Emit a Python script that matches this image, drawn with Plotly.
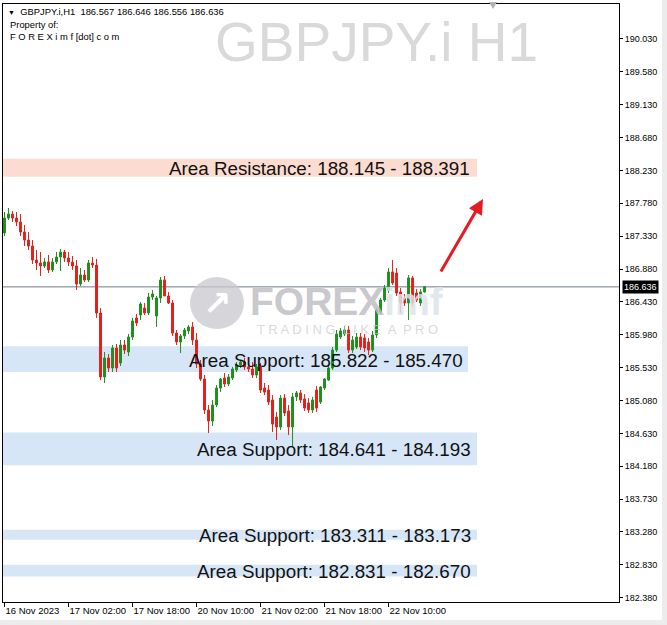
import plotly.graph_objects as go

# ---- data (H1 candles) ----
opens = [187.373,187.578,187.633,187.578,187.524,187.387,187.277,187.195,187.004,186.963,
         186.922,186.977,186.867,186.977,187.045,187.113,187.031,186.977,186.922,186.675,
         186.798,186.730,186.963,186.935,186.278,185.402,185.662,185.525,185.799,185.594,
         185.840,185.744,185.949,186.210,186.251,186.347,186.278,186.497,186.237,186.484,
         186.730,186.511,186.415,186.004,185.881,185.963,186.032,186.087,185.908,185.580,
         185.374,184.950,184.799,185.018,185.251,185.388,185.306,185.388,185.498,185.566,
         185.607,185.539,185.511,185.429,185.539,185.251,185.224,185.087,184.854,184.717,
         185.114,184.936,184.717,185.128,185.183,185.101,185.046,184.950,185.224,185.059,
         185.251,185.361,185.525,185.771,185.949,185.990,186.045,185.771,185.812,185.949,
         185.936,185.881,185.771,185.977,186.292,186.456,186.593,186.840,186.826,186.566,
         186.484,186.415,186.758,186.552,186.415,186.567]
highs = [187.661,187.715,187.674,187.661,187.633,187.483,187.387,187.277,187.141,187.113,
         187.031,187.072,187.031,187.113,187.154,187.141,187.113,187.059,187.004,186.894,
         186.867,187.004,187.045,187.018,186.347,185.744,185.716,185.840,185.854,185.908,
         185.908,185.990,186.210,186.265,186.429,186.415,186.552,186.593,186.511,186.771,
         186.785,186.566,186.456,186.045,185.990,186.073,186.114,186.155,186.004,185.635,
         185.429,185.018,185.087,185.292,185.388,185.456,185.443,185.539,185.607,185.635,
         185.662,185.621,185.607,185.580,185.594,185.319,185.292,185.155,184.922,185.155,
         185.169,185.018,185.183,185.210,185.224,185.169,185.114,185.128,185.279,185.279,
         185.388,185.566,185.812,186.045,186.073,186.100,186.100,185.963,186.004,186.004,
         185.990,185.936,186.032,186.347,186.484,186.662,186.894,187.004,186.894,186.621,
         186.538,186.799,186.785,186.607,186.607,186.646]
lows = [187.332,187.551,187.524,187.469,187.332,187.195,187.141,186.949,186.867,186.785,
        186.894,186.826,186.840,186.949,186.853,186.977,186.922,186.867,186.593,186.648,
        186.703,186.703,186.894,186.210,185.361,185.319,185.470,185.470,185.470,185.552,
        185.717,185.689,185.908,186.100,186.182,186.251,186.251,186.456,186.087,186.415,
        186.511,186.401,185.963,185.840,185.730,185.922,185.990,185.840,185.525,185.347,
        184.895,184.635,184.731,184.991,185.196,185.265,185.278,185.361,185.470,185.525,
        185.498,185.470,185.388,185.388,185.183,185.155,185.018,184.649,184.539,184.676,
        184.868,184.607,184.443,185.073,185.046,184.936,184.909,184.909,184.922,185.032,
        185.224,185.347,185.498,185.744,185.922,185.963,185.730,185.730,185.785,185.771,
        185.744,185.703,185.744,185.936,186.265,186.429,186.552,186.662,186.511,186.278,
        186.374,186.182,186.374,186.429,186.374,186.556]
closes = [187.578,187.633,187.578,187.524,187.387,187.277,187.195,187.004,186.963,186.922,
          186.977,186.867,186.977,187.045,187.113,187.031,186.977,186.922,186.675,186.798,
          186.730,186.963,186.935,186.278,185.402,185.662,185.525,185.799,185.525,185.840,
          185.771,185.949,186.169,186.141,186.401,186.278,186.497,186.538,186.484,186.730,
          186.511,186.415,186.004,185.881,185.963,186.045,186.087,185.908,185.580,185.374,
          184.950,184.799,185.018,185.251,185.374,185.306,185.402,185.511,185.566,185.607,
          185.539,185.511,185.429,185.539,185.224,185.196,185.059,184.758,184.717,185.114,
          184.909,184.717,185.128,185.183,185.087,184.977,184.950,185.087,184.977,185.265,
          185.374,185.525,185.771,185.990,186.032,186.045,185.771,185.908,185.949,185.812,
          185.799,185.771,185.977,186.319,186.456,186.621,186.840,186.689,186.552,186.415,
          186.415,186.758,186.415,186.456,186.566,186.636]

time_ticks = [0, 16, 32, 48, 64, 80, 96]
time_labels = ["16 Nov 2023", "17 Nov 02:00", "17 Nov 18:00", "20 Nov 10:00",
               "21 Nov 02:00", "21 Nov 18:00", "22 Nov 10:00"]
price_ticks = [190.030, 189.580, 189.130, 188.680, 188.230, 187.780, 187.330, 186.880,
               186.430, 185.980, 185.530, 185.080, 184.630, 184.180, 183.730, 183.280,
               182.830, 182.380]
last_price = 186.636

zone_names = ["Area Resistance", "Area Support", "Area Support", "Area Support", "Area Support"]
zone_high = [188.391, 185.822, 184.641, 183.311, 182.831]
zone_low = [188.145, 185.470, 184.193, 183.173, 182.670]
zone_text_first = ["188.145", "185.822", "184.641", "183.311", "182.831"]
zone_text_second = ["188.391", "185.470", "184.193", "183.173", "182.670"]

# ---- geometry helpers (pixel -> paper) ----
PL, PR, PT, PB = 3, 619, 4, 602
def px(x):
    return (x - PL) / (PR - PL)
def py(y):
    return (PB - y) / (PB - PT)

GREEN = "#1f8f1f"
RED = "#e3211c"

fig = go.Figure()
fig.add_trace(go.Candlestick(
    x=list(range(len(opens))), open=opens, high=highs, low=lows, close=closes,
    increasing=dict(line=dict(color=GREEN, width=1), fillcolor=GREEN),
    decreasing=dict(line=dict(color=RED, width=1), fillcolor=RED),
    whiskerwidth=0, showlegend=False, hoverinfo="skip"))

shapes = []
annotations = []

zone_right = [477, 468, 477, 477, 477]
text_right = [472, 465, 473, 473, 473]
zone_fill = ["#fcdcd0", "#d6e6f7", "#d6e6f7", "#d6e6f7", "#d6e6f7"]
for i in range(len(zone_high)):
    shapes.append(dict(type="rect", xref="paper", yref="y", x0=0, x1=px(zone_right[i]),
                       y0=zone_low[i], y1=zone_high[i], fillcolor=zone_fill[i],
                       line=dict(width=0), layer="below"))
    annotations.append(dict(xref="paper", yref="y", x=px(text_right[i]), xanchor="right",
                            y=(zone_low[i] + zone_high[i]) / 2, yanchor="middle", yshift=-1,
                            text=f"{zone_names[i]}: {zone_text_first[i]} - {zone_text_second[i]}",
                            showarrow=False, font=dict(family="Liberation Sans, Arial", size=18.8, color="#111111")))

# current price line
shapes.append(dict(type="line", xref="paper", yref="y", x0=0, x1=1, y0=last_price, y1=last_price,
                   line=dict(color="#6f7a86", width=1), layer="below"))

# watermark logo circle
shapes.append(dict(type="circle", xref="paper", yref="paper", xsizemode="pixel", ysizemode="pixel",
                   xanchor=px(217), yanchor=py(303), x0=-27, x1=27, y0=-26, y1=26,
                   fillcolor="rgba(200,200,206,0.75)", line=dict(width=0), layer="below"))

# chart-shift marker at the top
shapes.append(dict(type="path", xref="paper", yref="paper",
                   path=f"M {px(489)} {py(2)} L {px(497)} {py(2)} L {px(493)} {py(9)} Z",
                   fillcolor="#b0b0b0", line=dict(width=0)))

# outer light-gray frame around the window
shapes.append(dict(type="rect", xref="paper", yref="paper", x0=px(662), x1=px(668), y0=py(626), y1=py(-1),
                   fillcolor="#ececec", line=dict(width=0)))
shapes.append(dict(type="rect", xref="paper", yref="paper", x0=px(-1), x1=px(668), y0=py(626), y1=py(620),
                   fillcolor="#ececec", line=dict(width=0)))

# watermark texts
annotations.append(dict(xref="paper", yref="paper", x=px(377), y=py(42), xanchor="center", yanchor="middle",
                        text="GBPJPY.i H1", showarrow=False,
                        font=dict(family="Liberation Sans, Arial", size=55, color="#d9d9d9")))
annotations.append(dict(xref="paper", yref="paper", x=px(217), y=py(303), xanchor="center", yanchor="middle",
                        text="<b>↗</b>", showarrow=False,
                        font=dict(family="DejaVu Sans", size=34, color="#ffffff")))
annotations.append(dict(xref="paper", yref="paper", x=px(248), y=py(301), xanchor="left", yanchor="middle",
                        text="<b>FOREX</b><span style='color:#dde3ec'><b>imf</b></span>", showarrow=False,
                        font=dict(family="Liberation Sans, Arial", size=39, color="rgba(190,190,196,0.85)")))
annotations.append(dict(xref="paper", yref="paper", x=px(255), y=py(329), xanchor="left", yanchor="middle",
                        text="T R A D I N G  L I K E  A  P R O", showarrow=False,
                        font=dict(family="Liberation Sans, Arial", size=13, color="rgba(200,200,205,0.7)")))

# header
hdr_font = dict(family="Liberation Sans, Arial", size=9.4, color="#000000")
annotations.append(dict(xref="paper", yref="paper", x=px(6), y=py(12), xanchor="left", yanchor="middle",
                        text="<span style='font-size:7px'>▼</span>  GBPJPY.i,H1  186.567 186.646 186.556 186.636",
                        showarrow=False, font=hdr_font))
annotations.append(dict(xref="paper", yref="paper", x=px(8), y=py(25), xanchor="left", yanchor="middle",
                        text="Property of:", showarrow=False, font=hdr_font))
annotations.append(dict(xref="paper", yref="paper", x=px(8), y=py(37), xanchor="left", yanchor="middle",
                        text="F O R E X i m f [dot] c o m", showarrow=False, font=hdr_font))

# current price label
annotations.append(dict(xref="paper", yref="y", x=1, xshift=3, xanchor="left", y=last_price, yanchor="middle",
                        text=f"{last_price:.3f}", showarrow=False, bgcolor="#000000", borderpad=1,
                        font=dict(family="Liberation Sans, Arial", size=9, color="#ffffff")))

# red arrow
annotations.append(dict(xref="paper", yref="paper", x=px(483), y=py(199), ax=-43, ay=74,
                        axref="pixel", ayref="pixel", showarrow=True, arrowhead=2, arrowsize=1,
                        arrowwidth=3, arrowcolor="#e41b23", text=""))

fig.update_layout(
    width=667, height=625,
    margin=dict(l=PL, r=667 - PR, t=PT, b=625 - PB, autoexpand=False),
    paper_bgcolor="#ffffff", plot_bgcolor="#ffffff",
    shapes=shapes, annotations=annotations,
    showlegend=False,
    xaxis=dict(range=[-0.375, 153.6], rangeslider=dict(visible=False), showgrid=False, zeroline=False,
               tickmode="array", tickvals=time_ticks, ticktext=time_labels, tickangle=0,
               ticks="outside", ticklen=4, tickcolor="#000000", ticklabelposition="outside right",
               tickfont=dict(family="Liberation Sans, Arial", size=9.5, color="#000000"),
               showline=True, linecolor="#000000", linewidth=1, mirror=True, fixedrange=True,
               automargin=False),
    yaxis=dict(range=[182.321, 190.509], side="right", showgrid=False, zeroline=False,
               tickmode="array", tickvals=price_ticks, ticktext=[f"{v:.3f}" for v in price_ticks],
               ticks="outside", ticklen=3, tickcolor="#000000",
               tickfont=dict(family="Liberation Sans, Arial", size=9, color="#000000"),
               showline=True, linecolor="#000000", linewidth=1, mirror=True, fixedrange=True,
               automargin=False),
)

fig.write_html("out.html", config={"displayModeBar": False},
               post_script="document.body.style.margin='0px';document.body.style.padding='0px';")
